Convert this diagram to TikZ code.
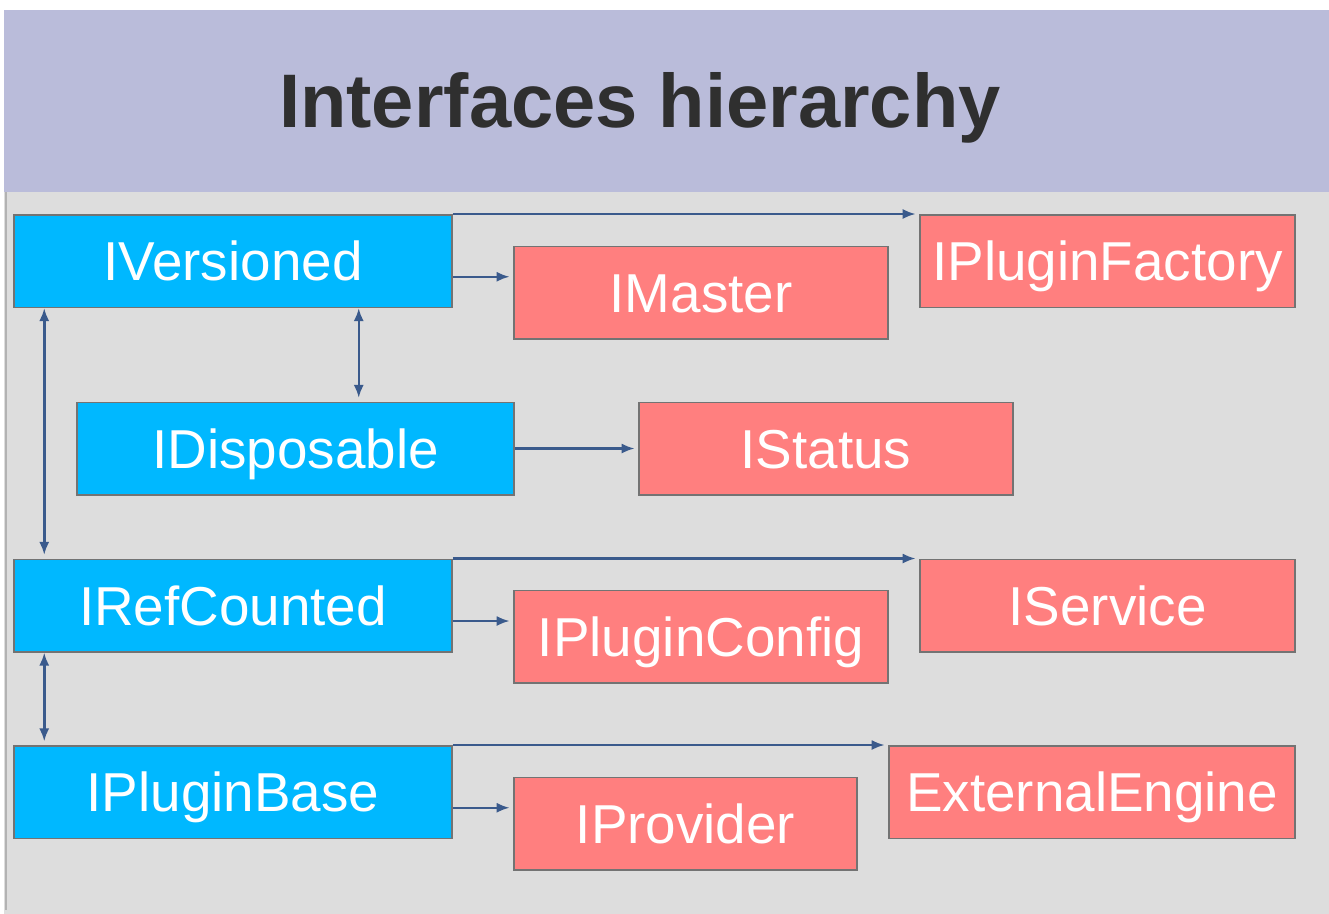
\documentclass[tikz,border=0pt]{standalone}
\usepackage{fontspec}
\setmainfont{Liberation Sans}
\usetikzlibrary{arrows.meta,calc}
\definecolor{bandcol}{RGB}{186,188,218}
\definecolor{panelcol}{RGB}{221,221,221}
\definecolor{ifblue}{RGB}{0,184,255}
\definecolor{ifred}{RGB}{255,127,127}
\definecolor{linkcol}{RGB}{58,90,140}
\definecolor{titlecol}{RGB}{47,47,47}
\begin{document}
\begin{tikzpicture}[x=0.1mm, y=-0.1mm, shorten >=1pt,
  box/.style={rectangle,draw=black!55,line width=0.15mm,inner sep=0pt,minimum height=9.25mm,text=white,text height=11.2pt,text depth=0pt},
  blue node/.style={box,fill=ifblue},
  red node/.style={box,fill=ifred},
  link/.style={draw=linkcol,line width=0.25mm,-{Latex[length=1.3mm,width=1mm]}},
  twoway/.style={draw=linkcol,line width=0.25mm,{Latex[length=1.3mm,width=1mm]}-{Latex[length=1.3mm,width=1mm]}}]
\useasboundingbox (0,0) rectangle (1329,914);
\fill[white] (0,0) rectangle (1329,914);
\fill[bandcol] (4,10) rectangle (1329,192);
\fill[panelcol] (4,192) rectangle (1329,914);
\draw[black!30,line width=0.3mm] (6,192) -- (6,914);
\node[font=\bfseries\fontsize{21.6}{26}\selectfont,text=titlecol,anchor=base] (title) at (640,127) {Interfaces hierarchy};
\begin{scope}[every node/.style={font=\fontsize{15.6}{18}\selectfont}]
\node [blue node,minimum width=43.8mm](IVersioned) at (233,261) {IVersioned};
\node [blue node,minimum width=43.7mm](IDisposable) at (295.5,448.5) {IDisposable};
\node [blue node,minimum width=43.8mm](IRefCounted) at (233,605.5) {IRefCounted};
\node [blue node,minimum width=43.8mm](IPluginBase) at (233,792) {IPluginBase};
\node [red node,minimum width=37.5mm](IPluginFactory) at (1107.5,261) {IPluginFactory};
\node [red node,minimum width=37.4mm](IMaster) at (701,292.5) {IMaster};
\node [red node,minimum width=37.4mm](IStatus) at (826,448.5) {IStatus};
\node [red node,minimum width=37.5mm](IService) at (1107.5,605.5) {IService};
\node [red node,minimum width=37.4mm](IPluginConfig) at (701,636.5) {IPluginConfig};
\node [red node,minimum width=40.6mm](ExternalEngine) at (1092,792) {ExternalEngine};
\node [red node,minimum width=34.3mm](IProvider) at (685.5,823.5) {IProvider};
\end{scope}
\coordinate (m1) at ($(IVersioned.east)!.5!(IMaster.west)$);
\coordinate (m2) at ($(IRefCounted.east)!.5!(IPluginConfig.west)$);
\coordinate (m3) at ($(IPluginBase.east)!.5!(IProvider.west)$);
\path
	(IVersioned.north east) edge [link] (IPluginFactory.north west)
	(IVersioned.east |- m1) edge [link] (IMaster.west |- m1)
	(IDisposable.east) edge [link] (IStatus.west)
	(IRefCounted.north east) edge [link] (IService.north west)
	(IRefCounted.east |- m2) edge [link] (IPluginConfig.west |- m2)
	(IPluginBase.north east) edge [link] (ExternalEngine.north west)
	(IPluginBase.east |- m3) edge [link] (IProvider.west |- m3)
	([xshift=3.1mm]IVersioned.south west) edge [twoway] ([xshift=3.1mm]IRefCounted.north west)
	([xshift=-9.4mm]IVersioned.south east) edge [twoway] ([xshift=-9.4mm]IVersioned.south east |- IDisposable.north)
	([xshift=3.1mm]IRefCounted.south west) edge [twoway] ([xshift=3.1mm]IPluginBase.north west)
	;
\end{tikzpicture}
\end{document}
